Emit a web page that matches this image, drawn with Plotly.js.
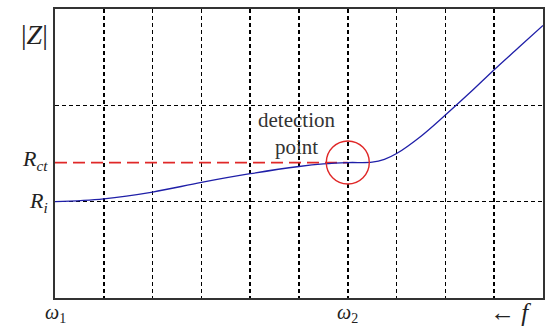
<!DOCTYPE html>
<html>
<head>
<meta charset="utf-8">
<script src="https://cdn.plot.ly/plotly-3.0.1.min.js"></script>
<style>html,body{margin:0;padding:0;background:#fff;}#chart{width:546px;height:330px;}</style>
</head>
<body>
<div id="chart"></div>
<script>
// Impedance magnitude curve (x: frequency grid units, y: |Z| grid units)
const curveX = [0, 1, 2, 3, 4, 5, 5.5, 6, 6.5, 6.75, 7, 7.5, 8, 8.5, 9, 9.5, 10];
const curveY = [1.0, 1.03, 1.10, 1.20, 1.29, 1.365, 1.392, 1.406, 1.41, 1.44, 1.50, 1.68, 1.90, 2.13, 2.37, 2.60, 2.83];
// R_ct reference level (red dashed) from left edge to detection point
const rctX = [0, 6];
const rctY = [1.406, 1.406];
// detection point
const detectX = [6];
const detectY = [1.406];
const detectText = "detection<br>point";
const detectLabelPos = [4.94, 1.71];
// axis labels
const xLabels = ["<i>ω</i><sub>1</sub>", "<i>ω</i><sub>2</sub>", "← <i>f</i>"];
const xLabelPos = [0, 6, 9.34];
const yLabels = ["|<i>Z</i>|", "<i>R</i><sub><i>ct</i></sub>", "<i>R</i><sub><i>i</i></sub>"];
const yLabelPos = [2.74, 1.43, 1.0];
const xRange = [0, 10];
const yRange = [0, 3];

const serif = "Liberation Serif, Times New Roman, serif";
const px = v => (v - xRange[0]) / (xRange[1] - xRange[0]);
const py = v => (v - yRange[0]) / (yRange[1] - yRange[0]);

const traces = [
  {x: rctX, y: rctY, mode: "lines", line: {color: "#e02828", width: 1.8, dash: "12px,6px"}, hoverinfo: "skip"},
  {x: curveX, y: curveY, mode: "lines", line: {color: "#1f1fa8", width: 1.3, shape: "spline", smoothing: 1}, hoverinfo: "skip"},
  {x: detectX, y: detectY, mode: "markers", marker: {symbol: "circle-open", size: 43, color: "#e02828", line: {width: 1.4, color: "#e02828"}}, hoverinfo: "skip"}
];

const annotations = [];
xLabels.forEach((t, i) => annotations.push({
  x: px(xLabelPos[i]), y: -0.104, xref: "paper", yref: "paper", text: t, showarrow: false,
  xanchor: "center", yanchor: "bottom",
  font: {family: serif, size: i === 2 ? 25 : 20, color: "#222"}
}));
yLabels.forEach((t, i) => annotations.push({
  x: px(-0.1), y: py(yLabelPos[i]), xref: "paper", yref: "paper", text: t, showarrow: false,
  xanchor: "right", yanchor: "middle",
  font: {family: serif, size: i === 0 ? 28 : 22, color: "#222"}
}));
annotations.push({
  x: detectLabelPos[0], y: detectLabelPos[1], xref: "x", yref: "y", text: detectText, showarrow: false,
  xanchor: "center", yanchor: "middle", align: "center",
  font: {family: serif, size: 21, color: "#333"}
});

const gridStyle = {showgrid: true, gridcolor: "#000", gridwidth: 1.5, griddash: "4px,3px"};

const layout = {
  width: 546, height: 330,
  margin: {l: 55, r: 3, t: 9, b: 32, pad: 0},
  paper_bgcolor: "#fff", plot_bgcolor: "#fff",
  showlegend: false,
  xaxis: Object.assign({range: xRange, dtick: 1, tick0: 0, showticklabels: false, ticks: "",
    zeroline: false, showline: true, linecolor: "#333", linewidth: 2, mirror: true}, gridStyle),
  yaxis: Object.assign({range: yRange, dtick: 1, tick0: 0, showticklabels: false, ticks: "",
    zeroline: false, showline: true, linecolor: "#333", linewidth: 2, mirror: true}, gridStyle),
  annotations: annotations
};

Plotly.newPlot("chart", traces, layout, {staticPlot: true, displayModeBar: false});
</script>
</body>
</html>
